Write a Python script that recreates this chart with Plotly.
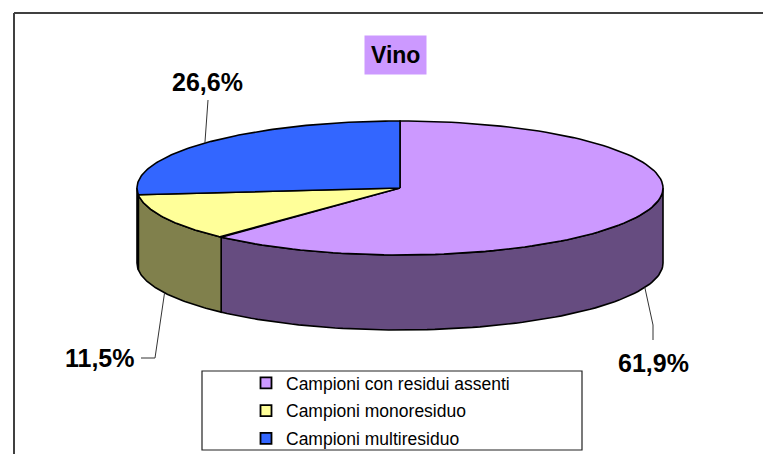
import numpy as np
import plotly.graph_objects as go

# data
categories = ["Campioni con residui assenti", "Campioni monoresiduo", "Campioni multiresiduo"]
shares = [61.9, 11.5, 26.6]
pct_labels = ["61,9%", "11,5%", "26,6%"]
top_colors = ["#CC99FF", "#FFFF99", "#3366FF"]
side_colors = ["#664C80", "#80804C", "#193380"]

# geometry of the tilted pie, in pixels (axes map 1:1 to the 763x454 page)
W, H = 763, 454
CX, CY = 400, 188
RX, RY = 263, 67
DEPTH = 75
EDGE = dict(color="black", width=1.6)
FONT = "Arial, Liberation Sans, sans-serif"


def rim(theta_deg, drop=0.0):
    t = np.radians(theta_deg)
    return CX + RX * np.sin(t), CY - RY * np.cos(t) + drop


fig = go.Figure()

bounds = np.concatenate([[0], np.cumsum(shares)]) / sum(shares) * 360

# side walls (only the front half, 90..270 deg, is visible)
for i in range(len(shares)):
    a, b = max(bounds[i], 90), min(bounds[i + 1], 270)
    if b <= a:
        continue
    th = np.linspace(a, b, 80)
    xt, yt = rim(th)
    xb, yb = rim(th[::-1], DEPTH)
    fig.add_trace(go.Scatter(x=np.r_[xt, xb, xt[:1]], y=np.r_[yt, yb, yt[:1]],
        mode="lines", fill="toself", fillcolor=side_colors[i],
        line=EDGE, showlegend=False, hoverinfo="skip"))

# top faces
for i in range(len(shares)):
    th = np.linspace(bounds[i], bounds[i + 1], 120)
    xa, ya = rim(th)
    fig.add_trace(go.Scatter(x=np.r_[CX, xa, CX], y=np.r_[CY, ya, CY],
        mode="lines", fill="toself", fillcolor=top_colors[i],
        line=EDGE, showlegend=False, hoverinfo="skip"))

# legend entries
for name, col in zip(categories, top_colors):
    fig.add_trace(go.Scatter(x=[None], y=[None], mode="markers", name=name,
        legendgroup=name,
        marker=dict(symbol="square", size=11, color=col,
                    line=dict(color="black", width=1.8))))

# data labels with leader lines
label_pos = [(653, 363), (100, 358), (207, 82)]
elbows = [[(653, 325), (653, 340)], [(155, 358), (141, 358)], [(208, 100)]]
for i in range(len(shares)):
    mid = (bounds[i] + bounds[i + 1]) / 2
    drop = DEPTH if 90 < mid < 270 else 0
    x0, y0 = rim(mid, drop)
    xs = [x0] + [p[0] for p in elbows[i]]
    ys = [y0] + [p[1] for p in elbows[i]]
    fig.add_trace(go.Scatter(x=xs, y=ys, mode="lines",
        line=dict(color="#333333", width=1), showlegend=False, hoverinfo="skip"))
    fig.add_annotation(x=label_pos[i][0], y=label_pos[i][1], text="<b>%s</b>" % pct_labels[i],
        showarrow=False, font=dict(family=FONT, size=25, color="black"))

# title
fig.add_annotation(x=395, y=55, text="<b>Vino</b>", showarrow=False,
    bgcolor="#CC99FF", borderpad=6, font=dict(family=FONT, size=23, color="black"))

# chart frame and legend box
fig.add_shape(type="line", x0=14, y0=13, x1=W, y1=13, line=dict(color="#404040", width=2))
fig.add_shape(type="line", x0=14, y0=13, x1=14, y1=H, line=dict(color="#404040", width=2))
fig.add_shape(type="rect", x0=202, y0=371, x1=582, y1=450,
    line=dict(color="#222222", width=1.2), fillcolor="white", layer="below")

fig.update_layout(
    width=W, height=H,
    margin=dict(l=0, r=0, t=0, b=0, autoexpand=False),
    paper_bgcolor="white", plot_bgcolor="white",
    xaxis=dict(range=[0, W], visible=False, fixedrange=True),
    yaxis=dict(range=[H, 0], visible=False, fixedrange=True),
    showlegend=True,
    legend=dict(x=246 / W, y=1 - 365 / H, xanchor="left", yanchor="top",
                bgcolor="rgba(0,0,0,0)", borderwidth=0, tracegroupgap=2,
                itemwidth=30,
                font=dict(family=FONT, size=17.5, color="black")),
)

fig.write_html("out.html", config={"displayModeBar": False},
               post_script="document.body.style.margin='0px';")
